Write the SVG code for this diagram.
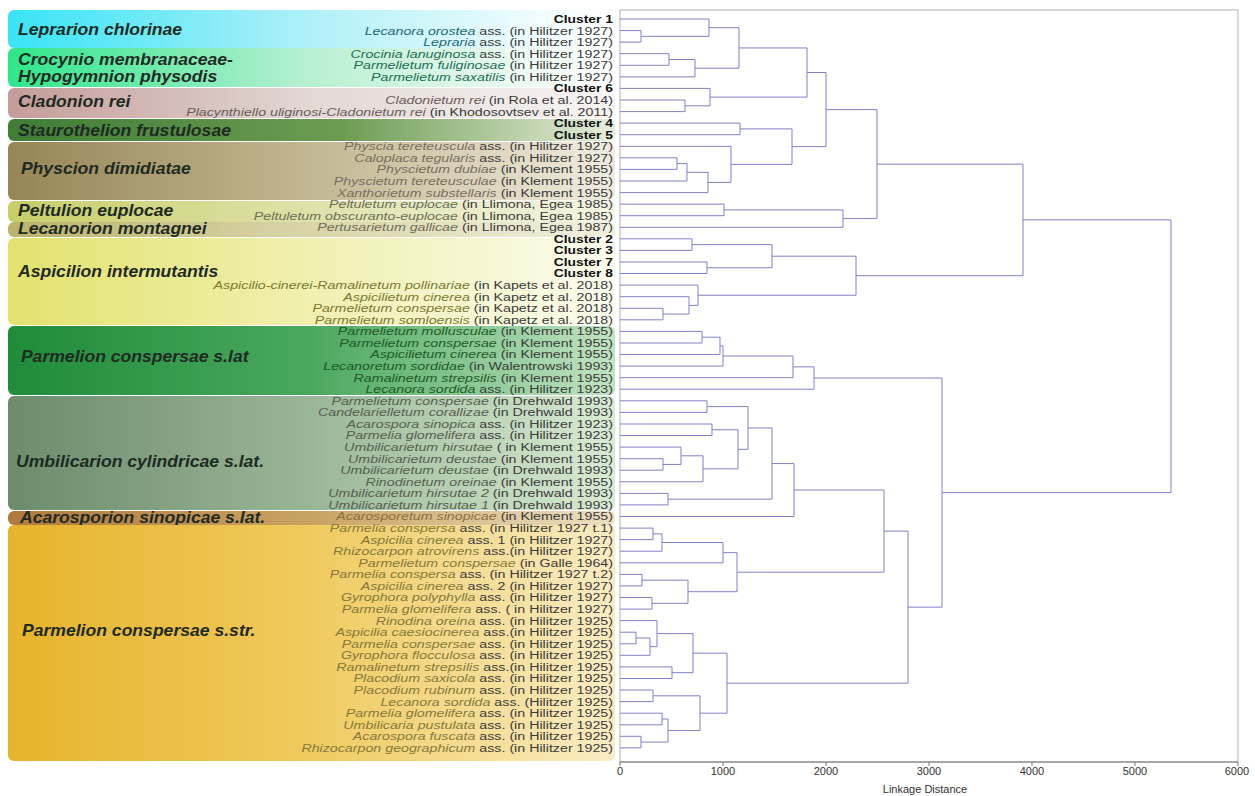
<svg xmlns="http://www.w3.org/2000/svg" width="1255" height="796" viewBox="0 0 1255 796">
<style>
.bt{font-family:"Liberation Sans",Arial,sans-serif;font-size:16px;font-weight:bold;font-style:italic;fill:#1e2a22}
.lf{font-family:"Liberation Sans",Arial,sans-serif;font-size:11.3px;text-anchor:end;fill:#3a3a3a}
.lf .n{font-style:italic}
.cl{font-weight:bold;fill:#111;font-size:11px}
.g1 .n{fill:#1f6a78}.g2 .n{fill:#1f6e55}.g3 .n{fill:#6a5c5a}.g4 .n{fill:#786e5e}.g5 .n{fill:#6e6e5a}
.g6 .n{fill:#7c7a30}.g7 .n{fill:#1f5a2a}.g8 .n{fill:#566150}.g9 .n{fill:#8a7040}.g10 .n{fill:#857a3a}
.dg path{fill:none;stroke:#8080c8;stroke-width:1}
.ax{font-family:"Liberation Sans",Arial,sans-serif;font-size:11px;fill:#333;text-anchor:middle}
</style>
<defs>
<linearGradient id="b1"><stop offset="0" stop-color="#38e4f6"/><stop offset="0.5" stop-color="#b0f0f8"/><stop offset="0.9" stop-color="#f4fdfe"/><stop offset="1" stop-color="#ffffff"/></linearGradient>
<linearGradient id="b2"><stop offset="0" stop-color="#2ee68a"/><stop offset="0.5" stop-color="#b8f0d2"/><stop offset="0.9" stop-color="#f4fcf7"/><stop offset="1" stop-color="#ffffff"/></linearGradient>
<linearGradient id="b3"><stop offset="0" stop-color="#c49c98"/><stop offset="0.5" stop-color="#e2d8d4"/><stop offset="1" stop-color="#f8f5f4"/></linearGradient>
<linearGradient id="b4"><stop offset="0" stop-color="#3f7d35"/><stop offset="0.55" stop-color="#6c9c52"/><stop offset="1" stop-color="#e6eedb"/></linearGradient>
<linearGradient id="b5"><stop offset="0" stop-color="#968656"/><stop offset="0.5" stop-color="#c2b792"/><stop offset="1" stop-color="#f0ecdf"/></linearGradient>
<linearGradient id="b6"><stop offset="0" stop-color="#c6ce68"/><stop offset="0.5" stop-color="#dfe2aa"/><stop offset="1" stop-color="#f5f5e4"/></linearGradient>
<linearGradient id="b7"><stop offset="0" stop-color="#bab26c"/><stop offset="0.5" stop-color="#d9d5a8"/><stop offset="1" stop-color="#f2f0e0"/></linearGradient>
<linearGradient id="b8"><stop offset="0" stop-color="#e2e26e"/><stop offset="0.5" stop-color="#f0f0b0"/><stop offset="1" stop-color="#fcfcef"/></linearGradient>
<linearGradient id="b9"><stop offset="0" stop-color="#1f8c3a"/><stop offset="0.5" stop-color="#4aa85e"/><stop offset="1" stop-color="#c2e4c2"/></linearGradient>
<linearGradient id="b10"><stop offset="0" stop-color="#6c8c6c"/><stop offset="0.5" stop-color="#9ab698"/><stop offset="1" stop-color="#d8ecd3"/></linearGradient>
<linearGradient id="b11"><stop offset="0" stop-color="#b07a3c"/><stop offset="0.5" stop-color="#c9a262"/><stop offset="1" stop-color="#ecdfc2"/></linearGradient>
<linearGradient id="b12"><stop offset="0" stop-color="#e6b42c"/><stop offset="0.5" stop-color="#f0ca5e"/><stop offset="1" stop-color="#faedc4"/></linearGradient>
</defs>
<rect width="1255" height="796" fill="#ffffff"/>

<g id="band-leprarion"><rect x="8" y="10" width="607" height="38" rx="6" fill="url(#b1)"/><text class="bt" transform="scale(1.1 1)" x="16.4" y="35" fill="#183e4a">Leprarion chlorinae</text></g>
<g id="band-crocynio"><rect x="8" y="48" width="607" height="39" rx="6" fill="url(#b2)"/><text class="bt" transform="scale(1.1 1)" x="16.4" y="65">Crocynio membranaceae-</text><text class="bt" transform="scale(1.1 1)" x="16.4" y="82">Hypogymnion physodis</text></g>
<g id="band-cladonion"><rect x="8" y="88" width="607" height="30" rx="6" fill="url(#b3)"/><text class="bt" transform="scale(1.1 1)" x="16.4" y="107">Cladonion rei</text></g>
<g id="band-staurothelion"><rect x="8" y="119" width="607" height="22" rx="6" fill="url(#b4)"/><text class="bt" transform="scale(1.1 1)" x="16.4" y="136">Staurothelion frustulosae</text></g>
<g id="band-physcion"><rect x="8" y="142" width="607" height="58" rx="6" fill="url(#b5)"/><text class="bt" transform="scale(1.1 1)" x="19" y="174">Physcion dimidiatae</text></g>
<g id="band-peltulion"><rect x="8" y="201" width="607" height="21" rx="6" fill="url(#b6)"/><text class="bt" transform="scale(1.1 1)" x="16.4" y="216">Peltulion euplocae</text></g>
<g id="band-lecanorion"><rect x="8" y="222" width="607" height="15" rx="6" fill="url(#b7)"/><text class="bt" transform="scale(1.1 1)" x="16.4" y="234">Lecanorion montagnei</text></g>
<g id="band-aspicilion"><rect x="8" y="238" width="607" height="87" rx="6" fill="url(#b8)"/><text class="bt" transform="scale(1.1 1)" x="16.4" y="277">Aspicilion intermutantis</text></g>
<g id="band-parmelion-slat"><rect x="8" y="326" width="607" height="69" rx="6" fill="url(#b9)"/><text class="bt" transform="scale(1.1 1)" x="19" y="362">Parmelion conspersae s.lat</text></g>
<g id="band-umbilicarion"><rect x="8" y="396" width="607" height="114" rx="6" fill="url(#b10)"/><text class="bt" transform="scale(1.1 1)" x="14.5" y="467">Umbilicarion cylindricae s.lat.</text></g>
<g id="band-acarosporion"><rect x="8" y="511" width="607" height="14" rx="6" fill="url(#b11)"/><text class="bt" transform="scale(1.1 1)" x="18.2" y="523">Acarosporion sinopicae s.lat.</text></g>
<g id="band-parmelion-sstr"><rect x="8" y="525" width="607" height="236" rx="6" fill="url(#b12)"/><text class="bt" transform="scale(1.1 1)" x="20" y="636">Parmelion conspersae s.str.</text></g>

<g id="leaves" class="lf" transform="matrix(1.26 0 0 1 -159.4 0)">
<g id="leaf-01"><text class="cl" x="613" y="23">Cluster 1</text></g>
<g id="leaf-02" class="g1"><text x="613" y="34.6"><tspan class="n">Lecanora orostea</tspan> ass. (in Hilitzer 1927)</text></g>
<g id="leaf-03" class="g1"><text x="613" y="46.1"><tspan class="n">Lepraria</tspan> ass. (in Hilitzer 1927)</text></g>
<g id="leaf-04" class="g2"><text x="613" y="57.7"><tspan class="n">Crocinia lanuginosa</tspan> ass. (in Hilitzer 1927)</text></g>
<g id="leaf-05" class="g2"><text x="613" y="69.3"><tspan class="n">Parmelietum fuliginosae</tspan> (in Hilitzer 1927)</text></g>
<g id="leaf-06" class="g2"><text x="613" y="80.9"><tspan class="n">Parmelietum saxatilis</tspan> (in Hilitzer 1927)</text></g>
<g id="leaf-07"><text class="cl" x="613" y="92.4">Cluster 6</text></g>
<g id="leaf-08" class="g3"><text x="613" y="104"><tspan class="n">Cladonietum rei</tspan> (in Rola et al. 2014)</text></g>
<g id="leaf-09" class="g3"><text x="613" y="115.6"><tspan class="n">Placynthiello uliginosi-Cladonietum rei</tspan> (in Khodosovtsev et al. 2011)</text></g>
<g id="leaf-10"><text class="cl" x="613" y="127.1">Cluster 4</text></g>
<g id="leaf-11"><text class="cl" x="613" y="138.7">Cluster 5</text></g>
<g id="leaf-12" class="g4"><text x="613" y="150.3"><tspan class="n">Physcia tereteuscula</tspan> ass. (in Hilitzer 1927)</text></g>
<g id="leaf-13" class="g4"><text x="613" y="161.8"><tspan class="n">Caloplaca tegularis</tspan> ass. (in Hilitzer 1927)</text></g>
<g id="leaf-14" class="g4"><text x="613" y="173.4"><tspan class="n">Physcietum dubiae</tspan> (in Klement 1955)</text></g>
<g id="leaf-15" class="g4"><text x="613" y="185"><tspan class="n">Physcietum tereteusculae</tspan> (in Klement 1955)</text></g>
<g id="leaf-16" class="g4"><text x="613" y="196.6"><tspan class="n">Xanthorietum substellaris</tspan> (in Klement 1955)</text></g>
<g id="leaf-17" class="g5"><text x="613" y="208.1"><tspan class="n">Peltuletum euplocae</tspan> (in Llimona, Egea 1985)</text></g>
<g id="leaf-18" class="g5"><text x="613" y="219.7"><tspan class="n">Peltuletum obscuranto-euplocae</tspan> (in Llimona, Egea 1985)</text></g>
<g id="leaf-19" class="g5"><text x="613" y="231.3"><tspan class="n">Pertusarietum gallicae</tspan> (in Llimona, Egea 1987)</text></g>
<g id="leaf-20"><text class="cl" x="613" y="242.8">Cluster 2</text></g>
<g id="leaf-21"><text class="cl" x="613" y="254.4">Cluster 3</text></g>
<g id="leaf-22"><text class="cl" x="613" y="266">Cluster 7</text></g>
<g id="leaf-23"><text class="cl" x="613" y="277.5">Cluster 8</text></g>
<g id="leaf-24" class="g6"><text x="613" y="289.1"><tspan class="n">Aspicilio-cinerei-Ramalinetum pollinariae</tspan> (in Kapets et al. 2018)</text></g>
<g id="leaf-25" class="g6"><text x="613" y="300.7"><tspan class="n">Aspicilietum cinerea</tspan> (in Kapetz et al. 2018)</text></g>
<g id="leaf-26" class="g6"><text x="613" y="312.3"><tspan class="n">Parmelietum conspersae</tspan> (in Kapetz et al. 2018)</text></g>
<g id="leaf-27" class="g6"><text x="613" y="323.8"><tspan class="n">Parmelietum somloensis</tspan> (in Kapetz et al. 2018)</text></g>
<g id="leaf-28" class="g7"><text x="613" y="335.4"><tspan class="n">Parmelietum mollusculae</tspan> (in Klement 1955)</text></g>
<g id="leaf-29" class="g7"><text x="613" y="347"><tspan class="n">Parmelietum conspersae</tspan> (in Klement 1955)</text></g>
<g id="leaf-30" class="g7"><text x="613" y="358.5"><tspan class="n">Aspicilietum cinerea</tspan> (in Klement 1955)</text></g>
<g id="leaf-31" class="g7"><text x="613" y="370.1"><tspan class="n">Lecanoretum sordidae</tspan> (in Walentrowski 1993)</text></g>
<g id="leaf-32" class="g7"><text x="613" y="381.7"><tspan class="n">Ramalinetum strepsilis</tspan> (in Klement 1955)</text></g>
<g id="leaf-33" class="g7"><text x="613" y="393.2"><tspan class="n">Lecanora sordida</tspan> ass. (in Hilitzer 1923)</text></g>
<g id="leaf-34" class="g8"><text x="613" y="404.8"><tspan class="n">Parmelietum conspersae</tspan> (in Drehwald 1993)</text></g>
<g id="leaf-35" class="g8"><text x="613" y="416.4"><tspan class="n">Candelarielletum corallizae</tspan> (in Drehwald 1993)</text></g>
<g id="leaf-36" class="g8"><text x="613" y="428"><tspan class="n">Acarospora sinopica</tspan> ass. (in Hilitzer 1923)</text></g>
<g id="leaf-37" class="g8"><text x="613" y="439.5"><tspan class="n">Parmelia glomelifera</tspan> ass. (in Hilitzer 1923)</text></g>
<g id="leaf-38" class="g8"><text x="613" y="451.1"><tspan class="n">Umbilicarietum hirsutae</tspan> ( in Klement 1955)</text></g>
<g id="leaf-39" class="g8"><text x="613" y="462.7"><tspan class="n">Umbilicarietum deustae</tspan> (in Klement 1955)</text></g>
<g id="leaf-40" class="g8"><text x="613" y="474.2"><tspan class="n">Umbilicarietum deustae</tspan> (in Drehwald 1993)</text></g>
<g id="leaf-41" class="g8"><text x="613" y="485.8"><tspan class="n">Rinodinetum oreinae</tspan> (in Klement 1955)</text></g>
<g id="leaf-42" class="g8"><text x="613" y="497.4"><tspan class="n">Umbilicarietum hirsutae 2</tspan> (in Drehwald 1993)</text></g>
<g id="leaf-43" class="g8"><text x="613" y="508.9"><tspan class="n">Umbilicarietum hirsutae 1</tspan> (in Drehwald 1993)</text></g>
<g id="leaf-44" class="g9"><text x="613" y="520.5"><tspan class="n">Acarosporetum sinopicae</tspan> (in Klement 1955)</text></g>
<g id="leaf-45" class="g10"><text x="613" y="532.1"><tspan class="n">Parmelia conspersa</tspan> ass. (in Hilitzer 1927 t.1)</text></g>
<g id="leaf-46" class="g10"><text x="613" y="543.6"><tspan class="n">Aspicilia cinerea</tspan> ass. 1 (in Hilitzer 1927)</text></g>
<g id="leaf-47" class="g10"><text x="613" y="555.2"><tspan class="n">Rhizocarpon atrovirens</tspan> ass.(in Hilitzer 1927)</text></g>
<g id="leaf-48" class="g10"><text x="613" y="566.8"><tspan class="n">Parmelietum conspersae</tspan> (in Galle 1964)</text></g>
<g id="leaf-49" class="g10"><text x="613" y="578.4"><tspan class="n">Parmelia conspersa</tspan> ass. (in Hilitzer 1927 t.2)</text></g>
<g id="leaf-50" class="g10"><text x="613" y="589.9"><tspan class="n">Aspicilia cinerea</tspan> ass. 2 (in Hilitzer 1927)</text></g>
<g id="leaf-51" class="g10"><text x="613" y="601.5"><tspan class="n">Gyrophora polyphylla</tspan> ass. (in Hilitzer 1927)</text></g>
<g id="leaf-52" class="g10"><text x="613" y="613.1"><tspan class="n">Parmelia glomelifera</tspan> ass. ( in Hilitzer 1927)</text></g>
<g id="leaf-53" class="g10"><text x="613" y="624.6"><tspan class="n">Rinodina oreina</tspan> ass. (in Hilitzer 1925)</text></g>
<g id="leaf-54" class="g10"><text x="613" y="636.2"><tspan class="n">Aspicilia caesiocinerea</tspan> ass.(in Hilitzer 1925)</text></g>
<g id="leaf-55" class="g10"><text x="613" y="647.8"><tspan class="n">Parmelia conspersae</tspan> ass. (in Hilitzer 1925)</text></g>
<g id="leaf-56" class="g10"><text x="613" y="659.3"><tspan class="n">Gyrophora flocculosa</tspan> ass. (in Hilitzer 1925)</text></g>
<g id="leaf-57" class="g10"><text x="613" y="670.9"><tspan class="n">Ramalinetum strepsilis</tspan> ass.(in Hilitzer 1925)</text></g>
<g id="leaf-58" class="g10"><text x="613" y="682.5"><tspan class="n">Placodium saxicola</tspan> ass. (in Hilitzer 1925)</text></g>
<g id="leaf-59" class="g10"><text x="613" y="694"><tspan class="n">Placodium rubinum</tspan> ass. (in Hilitzer 1925)</text></g>
<g id="leaf-60" class="g10"><text x="613" y="705.6"><tspan class="n">Lecanora sordida</tspan> ass. (Hilitzer 1925)</text></g>
<g id="leaf-61" class="g10"><text x="613" y="717.2"><tspan class="n">Parmelia glomelifera</tspan> ass. (in Hilitzer 1925)</text></g>
<g id="leaf-62" class="g10"><text x="613" y="728.8"><tspan class="n">Umbilicaria pustulata</tspan> ass. (in Hilitzer 1925)</text></g>
<g id="leaf-63" class="g10"><text x="613" y="740.3"><tspan class="n">Acarospora fuscata</tspan> ass. (in Hilitzer 1925)</text></g>
<g id="leaf-64" class="g10"><text x="613" y="751.9"><tspan class="n">Rhizocarpon geographicum</tspan> ass. (in Hilitzer 1925)</text></g>
</g>

<g id="frame">
<rect x="620" y="10" width="618" height="752" fill="none" stroke="#b0b0b0" stroke-width="1"/>
<path d="M620 762H1238" stroke="#777" stroke-width="1"/>
<path d="M620 762v4M723 762v4M826 762v4M929 762v4M1032 762v4M1135 762v4M1238 762v4" stroke="#777" stroke-width="1"/>
<text class="ax" x="620" y="775">0</text>
<text class="ax" x="723" y="775">1000</text>
<text class="ax" x="826" y="775">2000</text>
<text class="ax" x="929" y="775">3000</text>
<text class="ax" x="1032" y="775">4000</text>
<text class="ax" x="1135" y="775">5000</text>
<text class="ax" x="1237" y="775">6000</text>
<text class="ax" x="925" y="793">Linkage Distance</text>
</g>

<g id="dendrogram" class="dg">
<path d="M620 30.6H641V42.1H620"/>
<path d="M620 19H709V36.35H641"/>
<path d="M620 53.7H669V65.3H620"/>
<path d="M669 59.5H695V76.9H620"/>
<path d="M709 27.7H739V68.2H695"/>
<path d="M620 100H685V111.6H620"/>
<path d="M620 88.4H710V105.8H685"/>
<path d="M739 47.95H807V97.1H710"/>
<path d="M620 123.1H740V134.7H620"/>
<path d="M620 157.8H677V169.4H620"/>
<path d="M677 163.6H687V181H620"/>
<path d="M687 172.3H708V192.6H620"/>
<path d="M620 146.3H731V182.45H708"/>
<path d="M740 128.9H792V164.4H731"/>
<path d="M807 72.5H826V146.6H792"/>
<path d="M620 204.1H724V215.7H620"/>
<path d="M724 209.9H843V227.3H620"/>
<path d="M826 109.6H877V218.6H843"/>
<path d="M620 238.8H692V250.4H620"/>
<path d="M620 262H707V273.5H620"/>
<path d="M692 244.6H772V267.75H707"/>
<path d="M620 308.3H663V319.8H620"/>
<path d="M620 296.7H689V314.05H663"/>
<path d="M620 285.1H698V305.4H689"/>
<path d="M772 256.2H856V295.25H698"/>
<path d="M877 164.1H1023V275.7H856"/>
<path d="M620 331.4H702V343H620"/>
<path d="M702 337.2H720V354.5H620"/>
<path d="M720 345.85H723V366.1H620"/>
<path d="M723 356H793V377.7H620"/>
<path d="M793 366.85H814V389.2H620"/>
<path d="M620 400.8H707V412.4H620"/>
<path d="M620 424H712V435.5H620"/>
<path d="M620 458.7H663V470.2H620"/>
<path d="M620 447.1H681V464.45H663"/>
<path d="M681 455.8H703V481.8H620"/>
<path d="M712 429.75H738V468.8H703"/>
<path d="M707 406.6H748V449.3H738"/>
<path d="M620 493.4H668V504.9H620"/>
<path d="M748 427.95H772V499.15H668"/>
<path d="M772 463.55H794V516.5H620"/>
<path d="M620 528.1H653V539.6H620"/>
<path d="M653 533.85H662V551.2H620"/>
<path d="M662 542.5H723V562.8H620"/>
<path d="M620 574.4H642V585.9H620"/>
<path d="M620 597.5H652V609.1H620"/>
<path d="M642 580.15H688V603.3H652"/>
<path d="M723 552.65H737V591.7H688"/>
<path d="M794 490H884V572.2H737"/>
<path d="M620 632.2H636V643.8H620"/>
<path d="M636 638H650V655.3H620"/>
<path d="M620 620.6H657V646.65H650"/>
<path d="M620 666.9H672V678.5H620"/>
<path d="M657 633.6H693V672.7H672"/>
<path d="M620 690H653V701.6H620"/>
<path d="M620 713.2H662V724.8H620"/>
<path d="M620 736.3H641V747.9H620"/>
<path d="M662 719H668V742.1H641"/>
<path d="M653 695.8H700V730.55H668"/>
<path d="M693 653.15H727V713.2H700"/>
<path d="M884 531.1H908V683.2H727"/>
<path d="M814 378H942V607.15H908"/>
<path d="M1023 219.9H1171V492.6H942"/>
</g>
</svg>
